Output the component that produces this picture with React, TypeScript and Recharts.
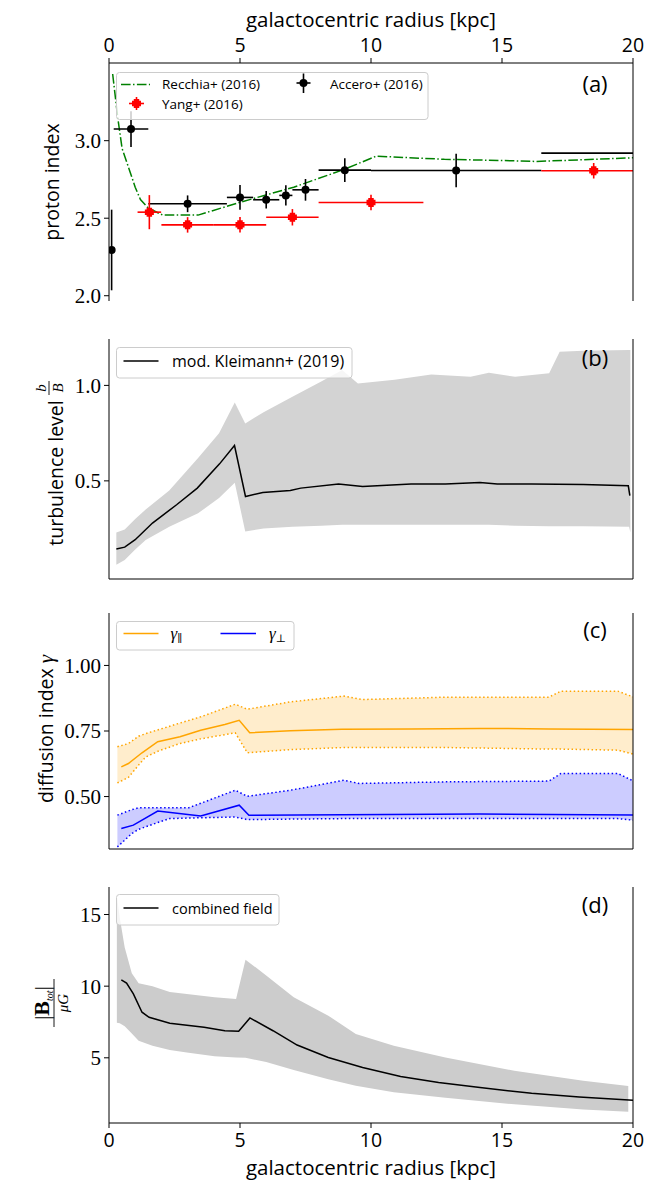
import React from 'react';
import { Area, ComposedChart, ErrorBar, Line, Scatter, XAxis, YAxis } from 'recharts';

const SANS = '"Open Sans", "DejaVu Sans", sans-serif';
const SERIF = '"Liberation Serif", "DejaVu Serif", serif';

const X_TICKS = [0, 5, 10, 15, 20];

// (a) proton index
const recchia = [
  { r: 0.14, y: 3.43 },
  { r: 0.34, y: 3.14 },
  { r: 0.5, y: 2.95 },
  { r: 1.0, y: 2.7 },
  { r: 1.2, y: 2.62 },
  { r: 1.5, y: 2.565 },
  { r: 2.05, y: 2.52 },
  { r: 3.4, y: 2.52 },
  { r: 4.95, y: 2.6 },
  { r: 7.05, y: 2.7 },
  { r: 8.9, y: 2.81 },
  { r: 10.2, y: 2.9 },
  { r: 12.8, y: 2.88 },
  { r: 15.5, y: 2.87 },
  { r: 16.3, y: 2.866 },
  { r: 18.1, y: 2.877 },
  { r: 20, y: 2.89 },
];

const accero = [
  { r: 0.1, y: 2.295, ex: 0, ey: 0.26 },
  { r: 0.84, y: 3.075, ex: 0.66, ey: 0.115 },
  { r: 3.0, y: 2.593, ex: 1.5, ey: 0.054 },
  { r: 5.0, y: 2.634, ex: 0.5, ey: 0.08 },
  { r: 6.0, y: 2.619, ex: 0.5, ey: 0.056 },
  { r: 6.75, y: 2.647, ex: 0.25, ey: 0.065 },
  { r: 7.5, y: 2.683, ex: 0.5, ey: 0.07 },
  { r: 9.0, y: 2.81, ex: 1.0, ey: 0.077 },
  { r: 13.25, y: 2.808, ex: 3.25, ey: 0.108 },
];

// outermost Accero ring (16.5 kpc and beyond), only its bin edge is inside the plot
const acceroOuterRing = [
  { r: 16.5, y: 2.92 },
  { r: 20, y: 2.92 },
];

const yang = [
  { r: 1.54, y: 2.539, ex: 0.45, ey: 0.11 },
  { r: 3.0, y: 2.457, ex: 1.0, ey: 0.05 },
  { r: 5.0, y: 2.457, ex: 1.0, ey: 0.05 },
  { r: 7.0, y: 2.506, ex: 1.0, ey: 0.053 },
  { r: 10.0, y: 2.601, ex: 2.0, ey: 0.05 },
  { r: 18.5, y: 2.806, ex: [2.0, 1.5], ey: 0.05 },
];

// (b) turbulence level
const kleimannMean = [
  { r: 0.28, y: 0.143 },
  { r: 0.6, y: 0.153 },
  { r: 1.0, y: 0.192 },
  { r: 1.66, y: 0.279 },
  { r: 2.58, y: 0.375 },
  { r: 3.37, y: 0.462 },
  { r: 4.22, y: 0.589 },
  { r: 4.79, y: 0.685 },
  { r: 5.21, y: 0.418 },
  { r: 5.87, y: 0.439 },
  { r: 6.92, y: 0.449 },
  { r: 7.32, y: 0.462 },
  { r: 8.76, y: 0.484 },
  { r: 9.68, y: 0.47 },
  { r: 11.53, y: 0.483 },
  { r: 12.84, y: 0.483 },
  { r: 14.16, y: 0.491 },
  { r: 14.82, y: 0.484 },
  { r: 16.13, y: 0.484 },
  { r: 18.1, y: 0.481 },
  { r: 19.82, y: 0.474 },
  { r: 19.88, y: 0.423 },
];

const kleimannBand = [
  { r: 0.28, lo: 0.06, hi: 0.23 },
  { r: 0.6, lo: 0.085, hi: 0.245 },
  { r: 1.0, lo: 0.14, hi: 0.3 },
  { r: 1.4, lo: 0.19, hi: 0.35 },
  { r: 2.3, lo: 0.26, hi: 0.45 },
  { r: 3.4, lo: 0.33, hi: 0.62 },
  { r: 4.2, lo: 0.41, hi: 0.75 },
  { r: 4.8, lo: 0.49, hi: 0.91 },
  { r: 5.2, lo: 0.235, hi: 0.8 },
  { r: 5.9, lo: 0.25, hi: 0.86 },
  { r: 7.0, lo: 0.26, hi: 0.94 },
  { r: 8.1, lo: 0.265, hi: 1.02 },
  { r: 8.9, lo: 0.27, hi: 1.08 },
  { r: 9.5, lo: 0.27, hi: 1.01 },
  { r: 10.9, lo: 0.27, hi: 1.03 },
  { r: 12.3, lo: 0.27, hi: 1.057 },
  { r: 13.8, lo: 0.27, hi: 1.045 },
  { r: 14.5, lo: 0.27, hi: 1.066 },
  { r: 15.5, lo: 0.265, hi: 1.045 },
  { r: 16.8, lo: 0.262, hi: 1.063 },
  { r: 17.2, lo: 0.262, hi: 1.176 },
  { r: 18.1, lo: 0.262, hi: 1.181 },
  { r: 19.85, lo: 0.26, hi: 1.185 },
  { r: 19.9, lo: 0.23, hi: 1.185 },
];

// (c) diffusion index
const gammaParMean = [
  { r: 0.47, y: 0.613 },
  { r: 0.74, y: 0.626 },
  { r: 1.26, y: 0.667 },
  { r: 1.86, y: 0.709 },
  { r: 2.71, y: 0.728 },
  { r: 3.5, y: 0.753 },
  { r: 4.42, y: 0.775 },
  { r: 4.97, y: 0.791 },
  { r: 5.37, y: 0.743 },
  { r: 6.92, y: 0.751 },
  { r: 8.89, y: 0.757 },
  { r: 11.53, y: 0.758 },
  { r: 14.16, y: 0.76 },
  { r: 16.79, y: 0.758 },
  { r: 20, y: 0.756 },
];

const gammaParBand = [
  { r: 0.32, lo: 0.552, hi: 0.69 },
  { r: 0.74, lo: 0.573, hi: 0.702 },
  { r: 1.13, lo: 0.62, hi: 0.73 },
  { r: 1.4, lo: 0.651, hi: 0.74 },
  { r: 1.92, lo: 0.675, hi: 0.756 },
  { r: 2.7, lo: 0.702, hi: 0.78 },
  { r: 3.5, lo: 0.72, hi: 0.804 },
  { r: 4.82, lo: 0.743, hi: 0.852 },
  { r: 5.28, lo: 0.667, hi: 0.833 },
  { r: 6.92, lo: 0.679, hi: 0.861 },
  { r: 8.96, lo: 0.687, hi: 0.883 },
  { r: 9.68, lo: 0.687, hi: 0.87 },
  { r: 12.84, lo: 0.687, hi: 0.879 },
  { r: 16.79, lo: 0.681, hi: 0.879 },
  { r: 17.25, lo: 0.681, hi: 0.902 },
  { r: 19.42, lo: 0.677, hi: 0.902 },
  { r: 20, lo: 0.662, hi: 0.88 },
];

const gammaPerpMean = [
  { r: 0.47, y: 0.378 },
  { r: 0.93, y: 0.391 },
  { r: 1.86, y: 0.445 },
  { r: 3.5, y: 0.426 },
  { r: 4.97, y: 0.467 },
  { r: 5.34, y: 0.429 },
  { r: 8.89, y: 0.431 },
  { r: 14.16, y: 0.433 },
  { r: 20, y: 0.43 },
];

const gammaPerpBand = [
  { r: 0.32, lo: 0.308, hi: 0.429 },
  { r: 0.87, lo: 0.359, hi: 0.45 },
  { r: 1.13, lo: 0.375, hi: 0.457 },
  { r: 1.92, lo: 0.403, hi: 0.457 },
  { r: 2.32, lo: 0.416, hi: 0.457 },
  { r: 3.04, lo: 0.418, hi: 0.457 },
  { r: 4.82, lo: 0.422, hi: 0.524 },
  { r: 5.28, lo: 0.412, hi: 0.501 },
  { r: 6.92, lo: 0.414, hi: 0.524 },
  { r: 8.96, lo: 0.416, hi: 0.562 },
  { r: 9.55, lo: 0.416, hi: 0.55 },
  { r: 12.84, lo: 0.416, hi: 0.556 },
  { r: 16.79, lo: 0.416, hi: 0.559 },
  { r: 17.25, lo: 0.416, hi: 0.588 },
  { r: 19.42, lo: 0.416, hi: 0.588 },
  { r: 20, lo: 0.41, hi: 0.56 },
];

// (d) combined field strength
const bTotMean = [
  { r: 0.47, y: 10.44 },
  { r: 0.67, y: 10.21 },
  { r: 0.93, y: 9.46 },
  { r: 1.26, y: 8.18 },
  { r: 1.53, y: 7.83 },
  { r: 2.32, y: 7.41 },
  { r: 3.63, y: 7.13 },
  { r: 4.42, y: 6.89 },
  { r: 4.95, y: 6.85 },
  { r: 5.38, y: 7.78 },
  { r: 6.26, y: 6.89 },
  { r: 7.18, y: 5.89 },
  { r: 8.37, y: 5.02 },
  { r: 9.68, y: 4.32 },
  { r: 11.13, y: 3.69 },
  { r: 12.58, y: 3.27 },
  { r: 14.16, y: 2.92 },
  { r: 16.13, y: 2.52 },
  { r: 17.95, y: 2.27 },
  { r: 20, y: 2.03 },
];

const bTotBand = [
  { r: 0.3, lo: 7.45, hi: 16.3 },
  { r: 0.41, lo: 7.42, hi: 14.8 },
  { r: 0.6, lo: 7.2, hi: 12.7 },
  { r: 0.87, lo: 6.7, hi: 10.9 },
  { r: 1.13, lo: 6.19, hi: 10.2 },
  { r: 1.66, lo: 5.84, hi: 10.0 },
  { r: 2.32, lo: 5.55, hi: 9.6 },
  { r: 2.97, lo: 5.37, hi: 9.45 },
  { r: 4.03, lo: 5.1, hi: 9.23 },
  { r: 4.85, lo: 5.02, hi: 9.1 },
  { r: 5.21, lo: 5.0, hi: 11.85 },
  { r: 6.0, lo: 4.7, hi: 10.75 },
  { r: 7.05, lo: 4.15, hi: 9.23 },
  { r: 8.37, lo: 3.5, hi: 7.94 },
  { r: 9.42, lo: 3.05, hi: 6.66 },
  { r: 10.87, lo: 2.6, hi: 5.84 },
  { r: 12.84, lo: 2.22, hi: 5.02 },
  { r: 15.47, lo: 1.75, hi: 4.09 },
  { r: 18.1, lo: 1.4, hi: 3.39 },
  { r: 19.82, lo: 1.24, hi: 3.04 },
];

type BandPt = { r: number; lo: number; hi: number };
const range = (d: BandPt) => [d.lo, d.hi];

const axisLine = { stroke: '#000', strokeWidth: 1 };
const tickLine = { stroke: '#000', strokeWidth: 1 };
const xTick = { fill: '#000', fontSize: 19.5, fontFamily: SANS };
const yTick = { fill: '#000', fontSize: 21, fontFamily: SERIF };

function AcceroDot(props: any) {
  const { cx, cy } = props;
  if (cx == null || cy == null) return null;
  return <circle cx={cx} cy={cy} r={4} fill="#000" />;
}

function plusPath(cx: number, cy: number, s: number, t: number) {
  const a = s / 2;
  const b = t / 2;
  return `M${cx - b},${cy - a}H${cx + b}V${cy - b}H${cx + a}V${cy + b}H${cx + b}V${cy + a}H${cx - b}V${cy + b}H${cx - a}V${cy - b}H${cx - b}Z`;
}

function YangDot(props: any) {
  const { cx, cy } = props;
  if (cx == null || cy == null) return null;
  return <path d={plusPath(cx, cy, 9, 5.5)} fill="#ff0000" />;
}

const PW = 656;
const MARGIN_X = { left: 49, right: 23 };
const PLOT_RIGHT = PW - MARGIN_X.right;

function PanelA() {
  return (
    <div style={{ position: 'absolute', left: 0, top: 0 }}>
      <ComposedChart width={PW} height={318} margin={{ top: 0, bottom: 17, ...MARGIN_X }}>
        <XAxis type="number" dataKey="r" domain={[0, 20]} allowDataOverflow orientation="top" height={63}
          ticks={X_TICKS} interval={0} tickSize={5} tickMargin={6} tick={xTick} axisLine={axisLine} tickLine={tickLine} />
        <XAxis xAxisId="bot" type="number" dataKey="r" domain={[0, 20]} orientation="bottom" height={0}
          tick={false} tickLine={false} axisLine={axisLine} />
        <YAxis type="number" domain={[1.966, 3.501]} allowDataOverflow ticks={[2, 2.5, 3]} interval={0}
          tickFormatter={(v: number) => v.toFixed(1)} width={60} tickSize={5} tickMargin={3}
          tick={yTick} axisLine={axisLine} tickLine={tickLine} />
        <Line data={recchia} dataKey="y" type="linear" stroke="#008000" strokeWidth={1.5}
          strokeDasharray="9.6 2.4 1.5 2.4" dot={false} activeDot={false} isAnimationActive={false} />
        <Line data={acceroOuterRing} dataKey="y" type="linear" stroke="#000" strokeWidth={1.6}
          dot={false} activeDot={false} isAnimationActive={false} />
        <Scatter data={accero} dataKey="y" shape={AcceroDot} isAnimationActive={false}>
          <ErrorBar dataKey="ex" direction="x" width={0} stroke="#000" strokeWidth={1.6} />
          <ErrorBar dataKey="ey" direction="y" width={0} stroke="#000" strokeWidth={1.6} />
        </Scatter>
        <Scatter data={yang} dataKey="y" shape={YangDot} isAnimationActive={false}>
          <ErrorBar dataKey="ex" direction="x" width={0} stroke="#ff0000" strokeWidth={1.6} />
          <ErrorBar dataKey="ey" direction="y" width={0} stroke="#ff0000" strokeWidth={1.6} />
        </Scatter>
      </ComposedChart>
    </div>
  );
}

function MidPanel({ top, height, domain, ticks, fmt, bottomLabels, children }: any) {
  const bottomH = bottomLabels ? 40 : 10;
  return (
    <div style={{ position: 'absolute', left: 0, top: top - 10 }}>
      <ComposedChart width={PW} height={10 + height + bottomH} margin={{ top: 10, bottom: 0, ...MARGIN_X }}>
        <XAxis type="number" dataKey="r" domain={[0, 20]} allowDataOverflow orientation="bottom" height={bottomH}
          ticks={X_TICKS} interval={0} tickSize={5} tickMargin={5} tick={bottomLabels ? xTick : false}
          axisLine={axisLine} tickLine={tickLine} />
        <XAxis xAxisId="top" type="number" dataKey="r" domain={[0, 20]} orientation="top" height={0}
          tick={false} tickLine={false} axisLine={axisLine} />
        <YAxis type="number" domain={domain} allowDataOverflow ticks={ticks} interval={0} tickFormatter={fmt}
          width={60} tickSize={5} tickMargin={3} tick={yTick} axisLine={axisLine} tickLine={tickLine} />
        {children}
      </ComposedChart>
    </div>
  );
}

// right-hand spines of the four panels
const PANEL_SPANS = [
  [63, 301],
  [339, 579],
  [613, 849],
  [887, 1123],
];

function Overlay() {
  const t = { fontFamily: SANS, fill: '#000' };
  return (
    <svg width={656} height={1182} style={{ position: 'absolute', left: 0, top: 0, pointerEvents: 'none' }}>
      {PANEL_SPANS.map(([y1, y2]) => (
        <line key={y1} x1={PLOT_RIGHT} x2={PLOT_RIGHT} y1={y1} y2={y2} stroke="#000" strokeWidth={1} />
      ))}

      {/* axis titles */}
      <text x={371} y={27} textAnchor="middle" fontSize={20.5} {...t}>galactocentric radius [kpc]</text>
      <text x={371} y={1175} textAnchor="middle" fontSize={20.5} {...t}>galactocentric radius [kpc]</text>

      <text transform="translate(59,182) rotate(-90)" textAnchor="middle" fontSize={19.5} {...t}>proton index</text>

      <g transform="translate(62.5,458) rotate(-90)">
        <text x={-15} y={0} textAnchor="middle" fontSize={19.5} {...t}>turbulence level</text>
        <text x={70} y={-17} textAnchor="middle" fontFamily={SERIF} fontStyle="italic" fontSize={15}>b</text>
        <line x1={63} x2={77} y1={-13.5} y2={-13.5} stroke="#000" strokeWidth={0.9} />
        <text x={70} y={0} textAnchor="middle" fontFamily={SERIF} fontStyle="italic" fontSize={15}>B</text>
      </g>

      <text transform="translate(53,729) rotate(-90)" textAnchor="middle" fontSize={19.5} {...t}>
        diffusion index <tspan fontFamily={SERIF} fontStyle="italic" fontSize={21}>γ</tspan>
      </text>

      <g transform="translate(54,1003) rotate(-90)">
        <line x1={-24} x2={24} y1={0} y2={0} stroke="#000" strokeWidth={0.9} />
        <text x={0} y={-5} textAnchor="middle" fontFamily={SERIF} fontSize={22}>
          |<tspan fontWeight="bold">B</tspan><tspan fontSize={10} fontStyle="italic" dy={4}>tot</tspan><tspan dy={-4}>|</tspan>
        </text>
        <text x={0} y={14} textAnchor="middle" fontFamily={SERIF} fontStyle="italic" fontSize={15}>μG</text>
      </g>

      {/* panel letters */}
      <text x={595} y={92} textAnchor="middle" fontSize={22} {...t}>(a)</text>
      <text x={595} y={366} textAnchor="middle" fontSize={22} {...t}>(b)</text>
      <text x={595} y={638} textAnchor="middle" fontSize={22} {...t}>(c)</text>
      <text x={595} y={913} textAnchor="middle" fontSize={22} {...t}>(d)</text>

      {/* legend (a) */}
      <rect x={116.5} y={72.5} width={311.5} height={47} rx={3} fill="#fff" fillOpacity={0.8} stroke="#cccccc" />
      <line x1={121} x2={150} y1={84.5} y2={84.5} stroke="#008000" strokeWidth={1.5} strokeDasharray="9.6 2.4 1.5 2.4" />
      <text x={162} y={89} fontSize={13.5} {...t}>Recchia+ (2016)</text>
      <line x1={129} x2={144} y1={103.5} y2={103.5} stroke="#ff0000" strokeWidth={1.6} />
      <line x1={136.5} x2={136.5} y1={97} y2={110} stroke="#ff0000" strokeWidth={1.6} />
      <path d={plusPath(136.5, 103.5, 9, 5.5)} fill="#ff0000" />
      <text x={162} y={108.5} fontSize={13.5} {...t}>Yang+ (2016)</text>
      <line x1={296.5} x2={310.5} y1={83} y2={83} stroke="#000" strokeWidth={1.6} />
      <line x1={303.5} x2={303.5} y1={73.5} y2={93} stroke="#000" strokeWidth={1.6} />
      <circle cx={303.5} cy={83} r={4} fill="#000" />
      <text x={330} y={89} fontSize={13.5} {...t}>Accero+ (2016)</text>

      {/* legend (b) */}
      <rect x={116.5} y={347.5} width={235.5} height={30.5} rx={3} fill="#fff" fillOpacity={0.8} stroke="#cccccc" />
      <line x1={123.5} x2={158.5} y1={361} y2={361} stroke="#000" strokeWidth={1.5} />
      <text x={172} y={366.5} fontSize={16} {...t}>mod. Kleimann+ (2019)</text>

      {/* legend (c) */}
      <rect x={116.5} y={621.5} width={177.5} height={28.5} rx={3} fill="#fff" fillOpacity={0.8} stroke="#cccccc" />
      <line x1={123.5} x2={158.5} y1={633.5} y2={633.5} stroke="#ffa500" strokeWidth={1.5} />
      <text x={170.5} y={638.5} fontFamily={SERIF} fontStyle="italic" fontSize={17}>
        γ<tspan fontStyle="normal" fontSize={11} dy={3}>∥</tspan>
      </text>
      <line x1={220.5} x2={256} y1={633.5} y2={633.5} stroke="#0000ff" strokeWidth={1.5} />
      <text x={269} y={638.5} fontFamily={SERIF} fontStyle="italic" fontSize={17}>
        γ<tspan fontStyle="normal" fontSize={11} dy={3}>⊥</tspan>
      </text>

      {/* legend (d) */}
      <rect x={116.5} y={894.5} width={162.5} height={30.5} rx={3} fill="#fff" fillOpacity={0.8} stroke="#cccccc" />
      <line x1={123.5} x2={158.5} y1={908} y2={908} stroke="#000" strokeWidth={1.5} />
      <text x={172} y={913.5} fontSize={14.5} {...t}>combined field</text>
    </svg>
  );
}

export default function App() {
  return (
    <div style={{ position: 'absolute', left: 0, top: 0, width: 656, height: 1182, background: '#fff' }}>
      <PanelA />

      <MidPanel top={339} height={240} domain={[-0.014, 1.243]} ticks={[0.5, 1.0]} fmt={(v: number) => v.toFixed(1)}>
        <Area data={kleimannBand} dataKey={range} type="linear" fill="#d3d3d3" fillOpacity={1} stroke="none"
          activeDot={false} isAnimationActive={false} />
        <Line data={kleimannMean} dataKey="y" type="linear" stroke="#000" strokeWidth={1.5}
          dot={false} activeDot={false} isAnimationActive={false} />
      </MidPanel>

      <MidPanel top={613} height={236} domain={[0.3, 1.2]} ticks={[0.5, 0.75, 1.0]} fmt={(v: number) => v.toFixed(2)}>
        <Area data={gammaParBand} dataKey={range} type="linear" fill="#ffa500" fillOpacity={0.2} stroke="none"
          activeDot={false} isAnimationActive={false} />
        <Area data={gammaPerpBand} dataKey={range} type="linear" fill="#0000ff" fillOpacity={0.2} stroke="none"
          activeDot={false} isAnimationActive={false} />
        <Line data={gammaParBand} dataKey="lo" type="linear" stroke="#ffa500" strokeWidth={1.5} strokeDasharray="1.5 2.5"
          dot={false} activeDot={false} isAnimationActive={false} />
        <Line data={gammaParBand} dataKey="hi" type="linear" stroke="#ffa500" strokeWidth={1.5} strokeDasharray="1.5 2.5"
          dot={false} activeDot={false} isAnimationActive={false} />
        <Line data={gammaPerpBand} dataKey="lo" type="linear" stroke="#0000ff" strokeWidth={1.5} strokeDasharray="1.5 2.5"
          dot={false} activeDot={false} isAnimationActive={false} />
        <Line data={gammaPerpBand} dataKey="hi" type="linear" stroke="#0000ff" strokeWidth={1.5} strokeDasharray="1.5 2.5"
          dot={false} activeDot={false} isAnimationActive={false} />
        <Line data={gammaParMean} dataKey="y" type="linear" stroke="#ffa500" strokeWidth={1.5}
          dot={false} activeDot={false} isAnimationActive={false} />
        <Line data={gammaPerpMean} dataKey="y" type="linear" stroke="#0000ff" strokeWidth={1.5}
          dot={false} activeDot={false} isAnimationActive={false} />
      </MidPanel>

      <MidPanel top={887} height={236} domain={[0.45, 16.92]} ticks={[5, 10, 15]} fmt={(v: number) => String(v)} bottomLabels>
        <Area data={bTotBand} dataKey={range} type="linear" fill="#cccccc" fillOpacity={1} stroke="none"
          activeDot={false} isAnimationActive={false} />
        <Line data={bTotMean} dataKey="y" type="linear" stroke="#000" strokeWidth={1.5}
          dot={false} activeDot={false} isAnimationActive={false} />
      </MidPanel>

      <Overlay />
    </div>
  );
}
